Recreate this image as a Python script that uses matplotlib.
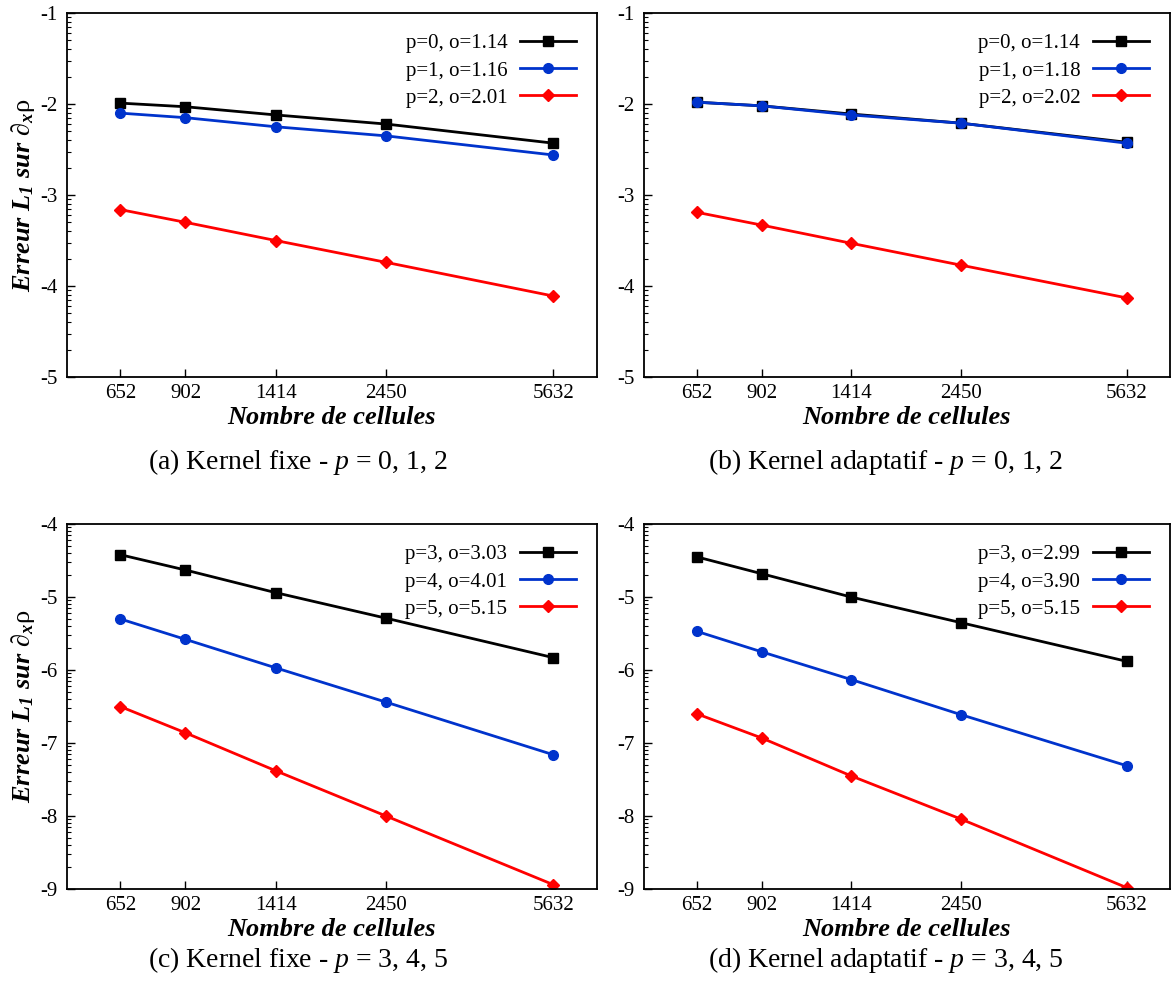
import numpy as np
import matplotlib
matplotlib.use('Agg')
import matplotlib.pyplot as plt
from matplotlib.ticker import FuncFormatter, FixedLocator, LogLocator, NullFormatter

plt.rcParams['font.family'] = ['Liberation Serif', 'DejaVu Serif']
plt.rcParams['mathtext.fontset'] = 'custom'
plt.rcParams['mathtext.rm'] = 'Liberation Serif'
plt.rcParams['mathtext.it'] = 'Liberation Serif:italic'
plt.rcParams['mathtext.bf'] = 'Liberation Serif:bold'
plt.rcParams['mathtext.bfit'] = 'Liberation Serif:bold:italic'

# number of cells (x axis, log scale)
cells = [652, 902, 1414, 2450, 5632]

# log10 of L1 error
a_p0 = [-1.99, -2.03, -2.12, -2.22, -2.43]
a_p1 = [-2.10, -2.15, -2.25, -2.35, -2.56]
a_p2 = [-3.16, -3.30, -3.50, -3.74, -4.11]

b_p0 = [-1.98, -2.02, -2.11, -2.21, -2.42]
b_p1 = [-1.98, -2.02, -2.12, -2.21, -2.43]
b_p2 = [-3.19, -3.33, -3.53, -3.77, -4.13]

c_p3 = [-4.42, -4.63, -4.94, -5.29, -5.83]
c_p4 = [-5.30, -5.58, -5.97, -6.44, -7.16]
c_p5 = [-6.50, -6.86, -7.38, -8.00, -8.94]

d_p3 = [-4.45, -4.68, -5.00, -5.35, -5.88]
d_p4 = [-5.47, -5.75, -6.13, -6.61, -7.31]
d_p5 = [-6.60, -6.93, -7.45, -8.04, -8.98]

labels_a = ['p=0, o=1.14', 'p=1, o=1.16', 'p=2, o=2.01']
labels_b = ['p=0, o=1.14', 'p=1, o=1.18', 'p=2, o=2.02']
labels_c = ['p=3, o=3.03', 'p=4, o=4.01', 'p=5, o=5.15']
labels_d = ['p=3, o=2.99', 'p=4, o=3.90', 'p=5, o=5.15']

captions = [r'(a) Kernel fixe - $p$ = 0, 1, 2',
            r'(b) Kernel adaptatif - $p$ = 0, 1, 2',
            r'(c) Kernel fixe - $p$ = 3, 4, 5',
            r'(d) Kernel adaptatif - $p$ = 3, 4, 5']

colors = ['black', '#0033cc', '#ff0000']
markers = ['s', 'o', 'D']
msizes = [7, 7, 6.5]

fig = plt.figure(figsize=(11.73, 9.94), dpi=100)

# axes boxes in figure fractions [left, bottom, width, height]
boxes = [[0.0571, 0.6207, 0.4518, 0.3662],
         [0.549, 0.6207, 0.4483, 0.3662],
         [0.0571, 0.1056, 0.4518, 0.3672],
         [0.549, 0.1056, 0.4483, 0.3672]]

panels = [([a_p0, a_p1, a_p2], labels_a, (-5, -1)),
          ([b_p0, b_p1, b_p2], labels_b, (-5, -1)),
          ([c_p3, c_p4, c_p5], labels_c, (-9, -4)),
          ([d_p3, d_p4, d_p5], labels_d, (-9, -4))]

for i, (series, labels, ylim) in enumerate(panels):
    ax = fig.add_axes(boxes[i])
    for s, lab, col, mk, ms in zip(series, labels, colors, markers, msizes):
        ax.plot(cells, 10.0 ** np.array(s), '-', color=col, marker=mk,
                markersize=ms, lw=2, label=lab)
    ax.set_xscale('log')
    ax.set_yscale('log')
    ax.set_xlim(500, 7000)
    ax.set_ylim(10.0 ** ylim[0], 10.0 ** ylim[1])

    ax.xaxis.set_major_locator(FixedLocator(cells))
    ax.xaxis.set_major_formatter(FuncFormatter(lambda v, pos: f'{int(round(v))}'))
    ax.xaxis.set_minor_locator(FixedLocator([]))
    ax.xaxis.set_minor_formatter(NullFormatter())

    ax.yaxis.set_major_locator(LogLocator(base=10, numticks=20))
    ax.yaxis.set_minor_locator(LogLocator(base=10, subs=np.arange(2, 10), numticks=20))
    ax.yaxis.set_major_formatter(FuncFormatter(lambda v, pos: f'{int(round(np.log10(v)))}'))
    ax.yaxis.set_minor_formatter(NullFormatter())

    ax.tick_params(axis='both', which='major', direction='in', length=6, width=1,
                   labelsize=15, top=False, right=False)
    ax.tick_params(axis='both', which='minor', direction='in', length=3, width=0.8,
                   top=False, right=False)
    ax.tick_params(axis='x', pad=5)
    ax.tick_params(axis='y', pad=7)
    for sp in ax.spines.values():
        sp.set_linewidth(1.3)

    ax.set_xlabel('Nombre de cellules', fontsize=19, fontweight='bold',
                  style='italic', labelpad=2)
    if i % 2 == 0:
        ax.set_ylabel(r'Erreur $\mathbfit{L}_{\mathbfit{1}}$ sur '
                      r'$\mathrm{\partial}_{\mathbfit{x}}\mathrm{\rho}$',
                      fontsize=19, fontweight='bold', style='italic', labelpad=2)

    ax.legend(loc='upper right', frameon=False, markerfirst=False, fontsize=15,
              handlelength=2.7, handletextpad=0.6, labelspacing=0.36,
              borderaxespad=0.6, bbox_to_anchor=(1.0, 1.0))

# sub-figure captions
fig.text(0.254, 1 - 462 / 994, captions[0], ha='center', va='center', fontsize=20)
fig.text(0.755, 1 - 462 / 994, captions[1], ha='center', va='center', fontsize=20)
fig.text(0.254, 1 - 960 / 994, captions[2], ha='center', va='center', fontsize=20)
fig.text(0.755, 1 - 960 / 994, captions[3], ha='center', va='center', fontsize=20)

fig.savefig('out.png', dpi=100)
